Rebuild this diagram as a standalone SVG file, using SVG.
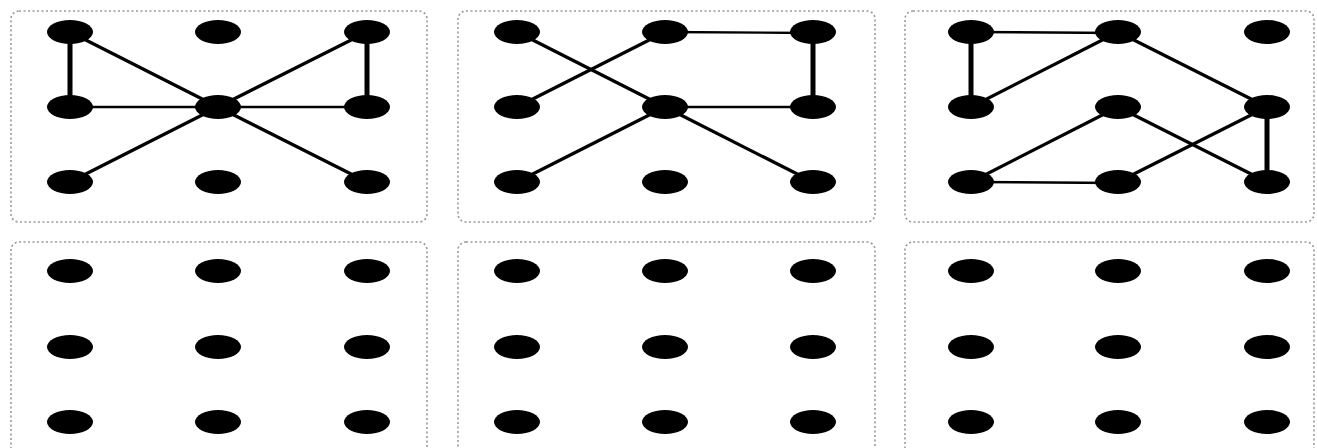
<svg xmlns="http://www.w3.org/2000/svg" width="1317" height="448" viewBox="0 0 1317 448">
<defs>
<style>
.box{fill:#fff;stroke:#9a9a9a;stroke-width:1.6;stroke-dasharray:2 2.5}
.n{fill:#000}
.e{stroke:#000;stroke-width:3.2;stroke-linecap:round}
.t{stroke-width:2.4}
.k{stroke-width:5}
</style>
</defs>
<rect width="1317" height="448" fill="#fff"/>
<g id="frames">
<rect class="box" x="11" y="11" width="416" height="211" rx="8"/>
<rect class="box" x="458" y="11" width="417" height="211" rx="8"/>
<rect class="box" x="905" y="11" width="409" height="211" rx="8"/>
<rect class="box" x="11" y="242" width="416" height="230" rx="8"/>
<rect class="box" x="458" y="242" width="417" height="230" rx="8"/>
<rect class="box" x="905" y="242" width="409" height="230" rx="8"/>
</g>
<g id="connectors">
<g id="p1-edges">
<line class="e k" x1="70" y1="32" x2="70" y2="107"/>
<line class="e" x1="70" y1="32" x2="218" y2="107"/>
<line class="e" x1="367" y1="32" x2="218" y2="107"/>
<line class="e t" x1="70" y1="107" x2="218" y2="107"/>
<line class="e t" x1="218" y1="107" x2="367" y2="107"/>
<line class="e k" x1="367" y1="32" x2="367" y2="107"/>
<line class="e" x1="70" y1="182" x2="218" y2="107"/>
<line class="e" x1="367" y1="182" x2="218" y2="107"/>
</g>
<g id="p2-edges">
<line class="e" x1="517" y1="32" x2="665" y2="107"/>
<line class="e" x1="517" y1="107" x2="665" y2="32"/>
<line class="e t" x1="665" y1="32" x2="813" y2="33"/>
<line class="e k" x1="813" y1="32" x2="813" y2="107"/>
<line class="e t" x1="665" y1="107" x2="813" y2="107"/>
<line class="e" x1="517" y1="182" x2="665" y2="107"/>
<line class="e" x1="813" y1="182" x2="665" y2="107"/>
</g>
<g id="p3-edges">
<line class="e t" x1="971" y1="32" x2="1118" y2="33"/>
<line class="e k" x1="971" y1="32" x2="971" y2="107"/>
<line class="e" x1="971" y1="107" x2="1118" y2="32"/>
<line class="e" x1="1118" y1="32" x2="1267" y2="107"/>
<line class="e" x1="971" y1="182" x2="1118" y2="107"/>
<line class="e" x1="1118" y1="107" x2="1267" y2="182"/>
<line class="e t" x1="971" y1="182" x2="1118" y2="183"/>
<line class="e" x1="1118" y1="182" x2="1267" y2="107"/>
<line class="e k" x1="1267" y1="107" x2="1267" y2="182"/>
</g>
</g>
<g id="p1-nodes">
<ellipse id="p1-n1" class="n" cx="70" cy="32" rx="23" ry="12"/>
<ellipse id="p1-n2" class="n" cx="218" cy="32" rx="23" ry="12"/>
<ellipse id="p1-n3" class="n" cx="367" cy="32" rx="23" ry="12"/>
<ellipse id="p1-n4" class="n" cx="70" cy="107" rx="23" ry="12"/>
<ellipse id="p1-n5" class="n" cx="218" cy="107" rx="23" ry="12"/>
<ellipse id="p1-n6" class="n" cx="367" cy="107" rx="23" ry="12"/>
<ellipse id="p1-n7" class="n" cx="70" cy="182" rx="23" ry="12"/>
<ellipse id="p1-n8" class="n" cx="218" cy="182" rx="23" ry="12"/>
<ellipse id="p1-n9" class="n" cx="367" cy="182" rx="23" ry="12"/>
</g>
<g id="p2-nodes">
<ellipse id="p2-n1" class="n" cx="517" cy="32" rx="23" ry="12"/>
<ellipse id="p2-n2" class="n" cx="665" cy="32" rx="23" ry="12"/>
<ellipse id="p2-n3" class="n" cx="813" cy="32" rx="23" ry="12"/>
<ellipse id="p2-n4" class="n" cx="517" cy="107" rx="23" ry="12"/>
<ellipse id="p2-n5" class="n" cx="665" cy="107" rx="23" ry="12"/>
<ellipse id="p2-n6" class="n" cx="813" cy="107" rx="23" ry="12"/>
<ellipse id="p2-n7" class="n" cx="517" cy="182" rx="23" ry="12"/>
<ellipse id="p2-n8" class="n" cx="665" cy="182" rx="23" ry="12"/>
<ellipse id="p2-n9" class="n" cx="813" cy="182" rx="23" ry="12"/>
</g>
<g id="p3-nodes">
<ellipse id="p3-n1" class="n" cx="971" cy="32" rx="23" ry="12"/>
<ellipse id="p3-n2" class="n" cx="1118" cy="32" rx="23" ry="12"/>
<ellipse id="p3-n3" class="n" cx="1267" cy="32" rx="23" ry="12"/>
<ellipse id="p3-n4" class="n" cx="971" cy="107" rx="23" ry="12"/>
<ellipse id="p3-n5" class="n" cx="1118" cy="107" rx="23" ry="12"/>
<ellipse id="p3-n6" class="n" cx="1267" cy="107" rx="23" ry="12"/>
<ellipse id="p3-n7" class="n" cx="971" cy="182" rx="23" ry="12"/>
<ellipse id="p3-n8" class="n" cx="1118" cy="182" rx="23" ry="12"/>
<ellipse id="p3-n9" class="n" cx="1267" cy="182" rx="23" ry="12"/>
</g>
<g id="p4-nodes">
<ellipse id="p4-n1" class="n" cx="70" cy="271" rx="23" ry="12"/>
<ellipse id="p4-n2" class="n" cx="218" cy="271" rx="23" ry="12"/>
<ellipse id="p4-n3" class="n" cx="367" cy="271" rx="23" ry="12"/>
<ellipse id="p4-n4" class="n" cx="70" cy="347" rx="23" ry="12"/>
<ellipse id="p4-n5" class="n" cx="218" cy="347" rx="23" ry="12"/>
<ellipse id="p4-n6" class="n" cx="367" cy="347" rx="23" ry="12"/>
<ellipse id="p4-n7" class="n" cx="70" cy="422" rx="23" ry="12"/>
<ellipse id="p4-n8" class="n" cx="218" cy="422" rx="23" ry="12"/>
<ellipse id="p4-n9" class="n" cx="367" cy="422" rx="23" ry="12"/>
</g>
<g id="p5-nodes">
<ellipse id="p5-n1" class="n" cx="517" cy="271" rx="23" ry="12"/>
<ellipse id="p5-n2" class="n" cx="665" cy="271" rx="23" ry="12"/>
<ellipse id="p5-n3" class="n" cx="813" cy="271" rx="23" ry="12"/>
<ellipse id="p5-n4" class="n" cx="517" cy="347" rx="23" ry="12"/>
<ellipse id="p5-n5" class="n" cx="665" cy="347" rx="23" ry="12"/>
<ellipse id="p5-n6" class="n" cx="813" cy="347" rx="23" ry="12"/>
<ellipse id="p5-n7" class="n" cx="517" cy="422" rx="23" ry="12"/>
<ellipse id="p5-n8" class="n" cx="665" cy="422" rx="23" ry="12"/>
<ellipse id="p5-n9" class="n" cx="813" cy="422" rx="23" ry="12"/>
</g>
<g id="p6-nodes">
<ellipse id="p6-n1" class="n" cx="971" cy="271" rx="23" ry="12"/>
<ellipse id="p6-n2" class="n" cx="1118" cy="271" rx="23" ry="12"/>
<ellipse id="p6-n3" class="n" cx="1267" cy="271" rx="23" ry="12"/>
<ellipse id="p6-n4" class="n" cx="971" cy="347" rx="23" ry="12"/>
<ellipse id="p6-n5" class="n" cx="1118" cy="347" rx="23" ry="12"/>
<ellipse id="p6-n6" class="n" cx="1267" cy="347" rx="23" ry="12"/>
<ellipse id="p6-n7" class="n" cx="971" cy="422" rx="23" ry="12"/>
<ellipse id="p6-n8" class="n" cx="1118" cy="422" rx="23" ry="12"/>
<ellipse id="p6-n9" class="n" cx="1267" cy="422" rx="23" ry="12"/>
</g>
</svg>
